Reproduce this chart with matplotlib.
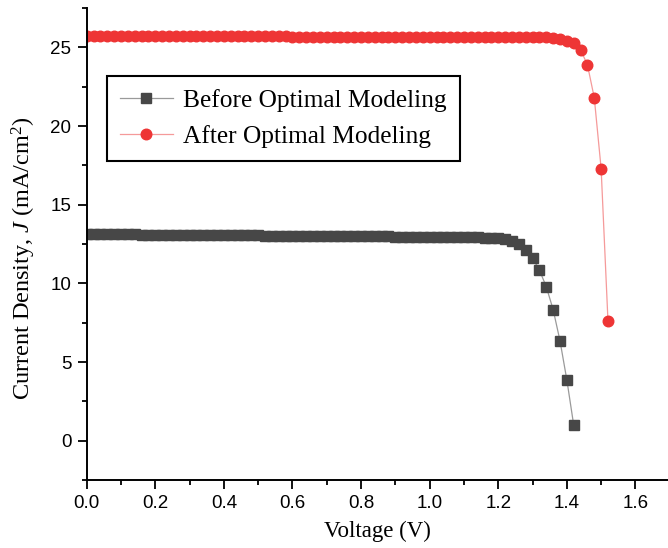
import matplotlib.pyplot as plt
from matplotlib.ticker import MultipleLocator

plt.rcParams["mathtext.fontset"] = "custom"
plt.rcParams["mathtext.it"] = "Liberation Serif:italic"
plt.rcParams["mathtext.rm"] = "Liberation Serif"

# Voltage grid (V)
v_before = [0.00, 0.02, 0.04, 0.06, 0.08, 0.10, 0.12, 0.14, 0.16, 0.18,
            0.20, 0.22, 0.24, 0.26, 0.28, 0.30, 0.32, 0.34, 0.36, 0.38,
            0.40, 0.42, 0.44, 0.46, 0.48, 0.50, 0.52, 0.54, 0.56, 0.58,
            0.60, 0.62, 0.64, 0.66, 0.68, 0.70, 0.72, 0.74, 0.76, 0.78,
            0.80, 0.82, 0.84, 0.86, 0.88, 0.90, 0.92, 0.94, 0.96, 0.98,
            1.00, 1.02, 1.04, 1.06, 1.08, 1.10, 1.12, 1.14, 1.16, 1.18,
            1.20, 1.22, 1.24, 1.26, 1.28, 1.30, 1.32, 1.34, 1.36, 1.38,
            1.40, 1.42]
j_before = [13.13, 13.13, 13.12, 13.12, 13.12, 13.11, 13.11, 13.11, 13.10, 13.10,
            13.10, 13.09, 13.09, 13.09, 13.08, 13.08, 13.08, 13.07, 13.07, 13.07,
            13.06, 13.06, 13.06, 13.05, 13.05, 13.05, 13.04, 13.04, 13.04, 13.03,
            13.03, 13.03, 13.02, 13.02, 13.02, 13.01, 13.01, 13.00, 13.00, 13.00,
            12.99, 12.99, 12.99, 12.98, 12.98, 12.97, 12.97, 12.97, 12.96, 12.96,
            12.95, 12.95, 12.94, 12.94, 12.93, 12.93, 12.92, 12.92, 12.91, 12.90,
            12.87, 12.80, 12.68, 12.49, 12.13, 11.61, 10.85, 9.79, 8.34, 6.36,
            3.87, 1.00]

v_after = v_before + [1.44, 1.46, 1.48, 1.50, 1.52]
j_after = [25.70, 25.70, 25.70, 25.70, 25.70, 25.70, 25.70, 25.70, 25.70, 25.70,
           25.70, 25.70, 25.70, 25.70, 25.70, 25.70, 25.70, 25.70, 25.70, 25.70,
           25.70, 25.70, 25.70, 25.70, 25.70, 25.70, 25.70, 25.70, 25.70, 25.70,
           25.69, 25.69, 25.69, 25.69, 25.69, 25.69, 25.69, 25.69, 25.69, 25.69,
           25.69, 25.69, 25.69, 25.69, 25.69, 25.69, 25.69, 25.68, 25.68, 25.68,
           25.68, 25.68, 25.68, 25.68, 25.68, 25.68, 25.67, 25.67, 25.67, 25.67,
           25.67, 25.67, 25.66, 25.66, 25.66, 25.65, 25.65, 25.64, 25.62, 25.56,
           25.43, 25.25, 24.85, 23.90, 21.80, 17.30, 7.60]

label_before = "Before Optimal Modeling"
label_after = "After Optimal Modeling"

fig = plt.figure(figsize=(6.68, 5.48), dpi=100)
ax = fig.add_axes([0.1298, 0.124, 0.8702, 0.8613])

ax.plot(v_before, j_before, color="#9a9a9a", linewidth=0.9,
        marker="s", markersize=6.6, markerfacecolor="#474747",
        markeredgecolor="#474747", label=label_before)
ax.plot(v_after, j_after, color="#f59a9a", linewidth=0.9,
        marker="o", markersize=7.6, markerfacecolor="#ee3535",
        markeredgecolor="#ee3535", label=label_after)

ax.set_xlim(0, 1.695)
ax.set_ylim(-2.5, 27.5)
ax.xaxis.set_major_locator(MultipleLocator(0.2))
ax.xaxis.set_minor_locator(MultipleLocator(0.1))
ax.yaxis.set_major_locator(MultipleLocator(5))
ax.yaxis.set_minor_locator(MultipleLocator(2.5))

for side in ["top", "right"]:
    ax.spines[side].set_visible(False)
for side in ["left", "bottom"]:
    ax.spines[side].set_linewidth(1.4)

ax.tick_params(which="major", direction="out", length=6.5, width=1.3,
               labelsize=13.5, colors="black", pad=4.5)
ax.tick_params(which="minor", direction="out", length=3.4, width=1.3)
for lbl in ax.get_xticklabels() + ax.get_yticklabels():
    lbl.set_family("Liberation Sans")

ax.set_xlabel("Voltage (V)", family="Liberation Serif", fontsize=16.5, labelpad=6)
ax.set_ylabel(r"Current Density, $\mathit{J}$ (mA/cm$^2$)", family="Liberation Serif",
              fontsize=17.5)
# label sits a bit below the axis centre in the original
ax.yaxis.set_label_coords(-0.083, 0.47)

leg = ax.legend(loc="upper left", bbox_to_anchor=(0.035, 0.856), borderaxespad=0,
                prop={"family": "Liberation Serif", "size": 18.3},
                handlelength=2.1, handletextpad=0.4, labelspacing=0.52,
                borderpad=0.5, fancybox=False, framealpha=1)
leg.get_frame().set_edgecolor("black")
leg.get_frame().set_linewidth(1.5)

fig.savefig("out.png", dpi=100)
